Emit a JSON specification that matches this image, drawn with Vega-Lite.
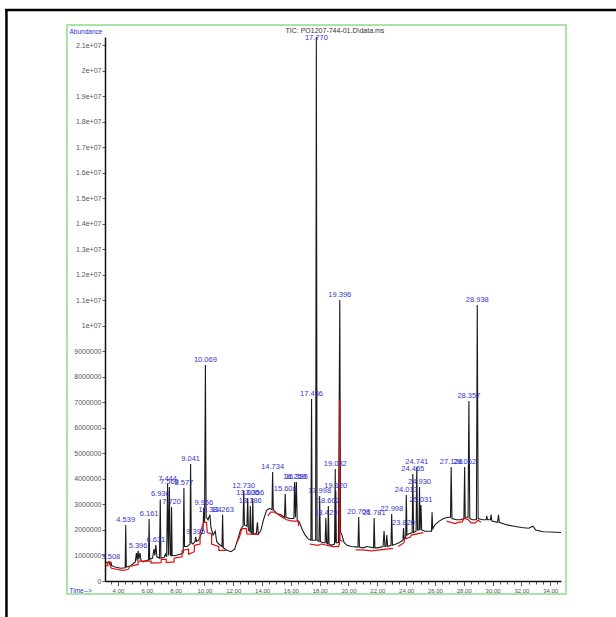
{
  "$schema": "https://vega.github.io/schema/vega-lite/v6.json",
  "width": 456,
  "height": 544,
  "autosize": {"type": "none"},
  "padding": {"left": 105, "top": 37, "right": 55, "bottom": 36},
  "background": "white",
  "config": {
    "view": {"stroke": null},
    "axis": {"grid": false, "domainColor": "#111111", "domainWidth": 1.5, "tickColor": "#333333", "tickWidth": 0.8,
      "labelFont": "Liberation Sans", "labelFontSize": 7, "labelColor": "#555555",
      "titleFont": "Liberation Sans", "titleFontWeight": "normal", "titleFontSize": 6.5, "titleColor": "#3030d0"},
    "axisX": {"labelFontSize": 6}
  },
  "datasets": {
    "tic": [
      {"t":3.1,"abundance":720000},{"t":3.4,"abundance":720000},{"t":3.46,"abundance":620000},{"t":3.508,"abundance":750000},{"t":3.56,"abundance":600000},
      {"t":3.8,"abundance":550000},{"t":4.2,"abundance":500000},{"t":4.5,"abundance":520000},{"t":4.539,"abundance":2200000},{"t":4.58,"abundance":550000},
      {"t":4.9,"abundance":600000},{"t":5.2,"abundance":750000},{"t":5.28,"abundance":1100000},{"t":5.33,"abundance":800000},{"t":5.396,"abundance":1180000},
      {"t":5.45,"abundance":850000},{"t":5.53,"abundance":1100000},{"t":5.6,"abundance":800000},{"t":5.75,"abundance":750000},{"t":5.95,"abundance":800000},
      {"t":6.12,"abundance":820000},{"t":6.161,"abundance":2430000},{"t":6.2,"abundance":850000},{"t":6.4,"abundance":900000},{"t":6.5,"abundance":1250000},
      {"t":6.56,"abundance":1000000},{"t":6.631,"abundance":1410000},{"t":6.7,"abundance":950000},{"t":6.88,"abundance":900000},{"t":6.936,"abundance":3200000},
      {"t":6.98,"abundance":900000},{"t":7.2,"abundance":920000},{"t":7.3,"abundance":1050000},{"t":7.38,"abundance":950000},{"t":7.444,"abundance":3800000},
      {"t":7.5,"abundance":1000000},{"t":7.569,"abundance":3690000},{"t":7.62,"abundance":1050000},{"t":7.68,"abundance":1000000},{"t":7.72,"abundance":2900000},
      {"t":7.76,"abundance":1000000},{"t":8.0,"abundance":1000000},{"t":8.3,"abundance":1050000},{"t":8.53,"abundance":1100000},{"t":8.577,"abundance":3650000},
      {"t":8.62,"abundance":1350000},{"t":8.8,"abundance":1350000},{"t":9.0,"abundance":1450000},{"t":9.041,"abundance":4590000},{"t":9.09,"abundance":1500000},
      {"t":9.2,"abundance":1450000},{"t":9.35,"abundance":1550000},{"t":9.395,"abundance":1730000},{"t":9.45,"abundance":1550000},{"t":9.6,"abundance":1600000},
      {"t":9.75,"abundance":1800000},{"t":9.9,"abundance":2000000},{"t":9.956,"abundance":2860000},{"t":10.01,"abundance":2300000},{"t":10.069,"abundance":8470000},
      {"t":10.12,"abundance":2500000},{"t":10.25,"abundance":2400000},{"t":10.384,"abundance":2600000},{"t":10.45,"abundance":2100000},{"t":10.6,"abundance":1800000},
      {"t":10.75,"abundance":1950000},{"t":10.85,"abundance":1550000},{"t":11.0,"abundance":1450000},{"t":11.22,"abundance":1350000},{"t":11.263,"abundance":2600000},
      {"t":11.31,"abundance":1300000},{"t":11.6,"abundance":1200000},{"t":11.85,"abundance":1150000},{"t":12.1,"abundance":1250000},{"t":12.3,"abundance":1600000},
      {"t":12.5,"abundance":2000000},{"t":12.68,"abundance":2150000},{"t":12.73,"abundance":3530000},{"t":12.78,"abundance":2200000},{"t":12.95,"abundance":2150000},
      {"t":13.006,"abundance":3250000},{"t":13.05,"abundance":2000000},{"t":13.14,"abundance":1950000},{"t":13.186,"abundance":2940000},{"t":13.23,"abundance":1900000},
      {"t":13.31,"abundance":1850000},{"t":13.356,"abundance":3250000},{"t":13.4,"abundance":1850000},{"t":13.6,"abundance":1850000},{"t":13.68,"abundance":2300000},
      {"t":13.74,"abundance":1850000},{"t":13.9,"abundance":1950000},{"t":14.1,"abundance":2400000},{"t":14.3,"abundance":2750000},{"t":14.5,"abundance":2850000},
      {"t":14.69,"abundance":2800000},{"t":14.734,"abundance":4270000},{"t":14.78,"abundance":2800000},{"t":15.0,"abundance":2650000},{"t":15.3,"abundance":2600000},
      {"t":15.56,"abundance":2500000},{"t":15.608,"abundance":3410000},{"t":15.66,"abundance":2500000},{"t":15.9,"abundance":2450000},{"t":16.21,"abundance":2450000},
      {"t":16.259,"abundance":3880000},{"t":16.32,"abundance":2500000},{"t":16.385,"abundance":3880000},{"t":16.44,"abundance":2400000},{"t":16.6,"abundance":2300000},
      {"t":16.8,"abundance":2000000},{"t":17.0,"abundance":1800000},{"t":17.2,"abundance":1650000},{"t":17.39,"abundance":1600000},{"t":17.436,"abundance":7140000},
      {"t":17.48,"abundance":1600000},{"t":17.72,"abundance":1600000},{"t":17.77,"abundance":21330000},{"t":17.82,"abundance":1600000},{"t":17.95,"abundance":1550000},
      {"t":17.998,"abundance":3330000},{"t":18.05,"abundance":1550000},{"t":18.2,"abundance":1500000},{"t":18.38,"abundance":1500000},{"t":18.429,"abundance":2470000},
      {"t":18.48,"abundance":1500000},{"t":18.56,"abundance":1450000},{"t":18.602,"abundance":2940000},{"t":18.65,"abundance":1450000},{"t":18.8,"abundance":1400000},
      {"t":19.03,"abundance":1450000},{"t":19.082,"abundance":4390000},{"t":19.1,"abundance":1500000},{"t":19.12,"abundance":3530000},{"t":19.16,"abundance":1500000},
      {"t":19.3,"abundance":1500000},{"t":19.396,"abundance":11020000},{"t":19.45,"abundance":1900000},{"t":19.55,"abundance":1800000},{"t":19.7,"abundance":1500000},
      {"t":19.9,"abundance":1400000},{"t":20.2,"abundance":1350000},{"t":20.66,"abundance":1330000},{"t":20.708,"abundance":2510000},{"t":20.76,"abundance":1330000},
      {"t":21.0,"abundance":1300000},{"t":21.3,"abundance":1350000},{"t":21.74,"abundance":1300000},{"t":21.781,"abundance":2470000},{"t":21.83,"abundance":1300000},
      {"t":22.0,"abundance":1300000},{"t":22.4,"abundance":1350000},{"t":22.47,"abundance":1960000},{"t":22.53,"abundance":1350000},{"t":22.6,"abundance":1350000},
      {"t":22.66,"abundance":1800000},{"t":22.72,"abundance":1350000},{"t":22.95,"abundance":1400000},{"t":22.998,"abundance":2630000},{"t":23.05,"abundance":1400000},
      {"t":23.3,"abundance":1450000},{"t":23.5,"abundance":1500000},{"t":23.78,"abundance":1600000},{"t":23.82,"abundance":2080000},{"t":23.87,"abundance":1650000},
      {"t":23.97,"abundance":1700000},{"t":24.013,"abundance":3370000},{"t":24.06,"abundance":1800000},{"t":24.2,"abundance":1850000},{"t":24.42,"abundance":1900000},
      {"t":24.465,"abundance":4200000},{"t":24.52,"abundance":1900000},{"t":24.69,"abundance":1950000},{"t":24.741,"abundance":4470000},{"t":24.79,"abundance":2000000},
      {"t":24.89,"abundance":2000000},{"t":24.93,"abundance":3690000},{"t":24.97,"abundance":2000000},{"t":25.031,"abundance":2980000},{"t":25.08,"abundance":2000000},
      {"t":25.3,"abundance":1950000},{"t":25.5,"abundance":1950000},{"t":25.76,"abundance":1950000},{"t":25.8,"abundance":2700000},{"t":25.85,"abundance":2050000},
      {"t":26.0,"abundance":2200000},{"t":26.3,"abundance":2350000},{"t":26.6,"abundance":2450000},{"t":26.9,"abundance":2500000},{"t":27.08,"abundance":2500000},
      {"t":27.128,"abundance":4470000},{"t":27.18,"abundance":2450000},{"t":27.5,"abundance":2400000},{"t":27.8,"abundance":2400000},{"t":28.01,"abundance":2450000},
      {"t":28.062,"abundance":4470000},{"t":28.1,"abundance":2500000},{"t":28.3,"abundance":2500000},{"t":28.357,"abundance":7060000},{"t":28.42,"abundance":2450000},
      {"t":28.6,"abundance":2400000},{"t":28.88,"abundance":2400000},{"t":28.938,"abundance":10820000},{"t":29.0,"abundance":2450000},{"t":29.3,"abundance":2400000},
      {"t":29.55,"abundance":2400000},{"t":29.6,"abundance":2550000},{"t":29.65,"abundance":2400000},{"t":29.85,"abundance":2400000},{"t":29.9,"abundance":2600000},
      {"t":29.95,"abundance":2350000},{"t":30.35,"abundance":2300000},{"t":30.41,"abundance":2600000},{"t":30.47,"abundance":2300000},{"t":31.0,"abundance":2200000},
      {"t":31.5,"abundance":2150000},{"t":32.0,"abundance":2100000},{"t":32.5,"abundance":2070000},{"t":32.8,"abundance":2150000},{"t":33.0,"abundance":2000000},
      {"t":33.5,"abundance":1930000},{"t":34.0,"abundance":1920000},{"t":34.75,"abundance":1900000}
    ],
    "baseline": [
      {"seg":"a","t":3.15,"abundance":600000},{"seg":"a","t":3.3,"abundance":600000},{"seg":"a","t":3.3,"abundance":750000},{"seg":"a","t":3.45,"abundance":750000},
      {"seg":"a","t":3.5,"abundance":550000},{"seg":"a","t":3.55,"abundance":500000},{"seg":"a","t":4.3,"abundance":420000},{"seg":"a","t":4.7,"abundance":450000},{"seg":"a","t":4.8,"abundance":550000},
      {"seg":"b","t":4.9,"abundance":580000},{"seg":"b","t":5.4,"abundance":650000},{"seg":"b","t":5.4,"abundance":780000},{"seg":"b","t":6.3,"abundance":780000},
      {"seg":"b","t":6.3,"abundance":700000},{"seg":"b","t":7.0,"abundance":720000},{"seg":"b","t":7.0,"abundance":850000},{"seg":"b","t":7.35,"abundance":850000},
      {"seg":"b","t":7.35,"abundance":720000},{"seg":"b","t":7.9,"abundance":750000},{"seg":"b","t":7.9,"abundance":900000},{"seg":"b","t":8.45,"abundance":950000},
      {"seg":"b","t":8.45,"abundance":1200000},{"seg":"b","t":8.9,"abundance":1250000},{"seg":"b","t":8.9,"abundance":1050000},{"seg":"b","t":9.3,"abundance":1150000},
      {"seg":"b","t":9.3,"abundance":1400000},{"seg":"b","t":9.7,"abundance":1450000},{"seg":"b","t":9.7,"abundance":1900000},{"seg":"b","t":9.95,"abundance":2300000},
      {"seg":"b","t":10.15,"abundance":2300000},{"seg":"b","t":10.2,"abundance":1900000},{"seg":"b","t":10.5,"abundance":1850000},{"seg":"b","t":10.5,"abundance":1450000},
      {"seg":"b","t":11.0,"abundance":1350000},{"seg":"b","t":11.0,"abundance":1200000},{"seg":"b","t":11.5,"abundance":1200000},
      {"seg":"c","t":12.25,"abundance":1500000},{"seg":"c","t":12.45,"abundance":1750000},{"seg":"c","t":12.6,"abundance":2050000},{"seg":"c","t":12.9,"abundance":2050000},
      {"seg":"c","t":12.95,"abundance":1850000},{"seg":"c","t":13.8,"abundance":1820000},
      {"seg":"d","t":14.4,"abundance":2550000},{"seg":"d","t":14.6,"abundance":2700000},{"seg":"d","t":14.9,"abundance":2700000},{"seg":"d","t":15.4,"abundance":2500000},
      {"seg":"d","t":15.7,"abundance":2400000},{"seg":"d","t":16.1,"abundance":2350000},{"seg":"d","t":16.5,"abundance":2350000},{"seg":"d","t":16.55,"abundance":2150000},
      {"seg":"e","t":17.3,"abundance":1450000},{"seg":"e","t":17.9,"abundance":1400000},{"seg":"e","t":18.1,"abundance":1450000},{"seg":"e","t":18.9,"abundance":1350000},
      {"seg":"e","t":19.3,"abundance":1350000},{"seg":"e","t":19.37,"abundance":1450000},{"seg":"e","t":19.39,"abundance":7100000},{"seg":"e","t":19.41,"abundance":1600000},{"seg":"e","t":19.6,"abundance":1550000},
      {"seg":"f","t":20.5,"abundance":1220000},{"seg":"f","t":21.0,"abundance":1220000},{"seg":"f","t":21.6,"abundance":1180000},{"seg":"f","t":22.2,"abundance":1220000},{"seg":"f","t":23.1,"abundance":1280000},
      {"seg":"g","t":23.45,"abundance":1350000},{"seg":"g","t":23.85,"abundance":1500000},{"seg":"g","t":23.9,"abundance":1650000},{"seg":"g","t":24.3,"abundance":1720000},
      {"seg":"g","t":24.35,"abundance":1800000},{"seg":"g","t":25.2,"abundance":1900000},
      {"seg":"h","t":26.8,"abundance":2350000},{"seg":"h","t":27.4,"abundance":2250000},{"seg":"h","t":27.6,"abundance":2300000},{"seg":"h","t":27.9,"abundance":2320000},
      {"seg":"h","t":28.0,"abundance":2450000},{"seg":"h","t":28.3,"abundance":2420000},{"seg":"h","t":28.5,"abundance":2280000},{"seg":"h","t":28.8,"abundance":2280000},
      {"seg":"h","t":29.0,"abundance":2380000},{"seg":"h","t":29.2,"abundance":2300000}
    ],
    "peaks": [
      {"t":3.508,"abundance":750000,"label":"3.508"},{"t":4.539,"abundance":2200000,"label":"4.539"},{"t":5.396,"abundance":1180000,"label":"5.396"},
      {"t":6.161,"abundance":2430000,"label":"6.161"},{"t":6.631,"abundance":1410000,"label":"6.631"},{"t":6.936,"abundance":3200000,"label":"6.936"},
      {"t":7.444,"abundance":3800000,"label":"7.444"},{"t":7.569,"abundance":3690000,"label":"7.569"},{"t":7.72,"abundance":2900000,"label":"7.720"},
      {"t":8.577,"abundance":3650000,"label":"8.577"},{"t":9.041,"abundance":4590000,"label":"9.041"},{"t":9.395,"abundance":1730000,"label":"9.395"},
      {"t":9.956,"abundance":2860000,"label":"9.956"},{"t":10.069,"abundance":8470000,"label":"10.069"},{"t":10.384,"abundance":2600000,"label":"10.384"},
      {"t":11.263,"abundance":2600000,"label":"11.263"},{"t":12.73,"abundance":3530000,"label":"12.730"},{"t":13.006,"abundance":3250000,"label":"13.006"},
      {"t":13.186,"abundance":2940000,"label":"13.186"},{"t":13.356,"abundance":3250000,"label":"13.356"},{"t":14.734,"abundance":4270000,"label":"14.734"},
      {"t":15.608,"abundance":3410000,"label":"15.608"},{"t":16.259,"abundance":3880000,"label":"16.259"},{"t":16.385,"abundance":3880000,"label":"16.385"},
      {"t":17.436,"abundance":7140000,"label":"17.436"},{"t":17.77,"abundance":21100000,"label":"17.770"},{"t":17.998,"abundance":3330000,"label":"17.998"},
      {"t":18.429,"abundance":2470000,"label":"18.429"},{"t":18.602,"abundance":2940000,"label":"18.602"},{"t":19.082,"abundance":4390000,"label":"19.082"},
      {"t":19.12,"abundance":3530000,"label":"19.120"},{"t":19.396,"abundance":11020000,"label":"19.396"},{"t":20.708,"abundance":2510000,"label":"20.708"},
      {"t":21.781,"abundance":2470000,"label":"21.781"},{"t":22.998,"abundance":2630000,"label":"22.998"},{"t":23.82,"abundance":2080000,"label":"23.820"},
      {"t":24.013,"abundance":3370000,"label":"24.013"},{"t":24.465,"abundance":4200000,"label":"24.465"},{"t":24.741,"abundance":4470000,"label":"24.741"},
      {"t":24.93,"abundance":3690000,"label":"24.930"},{"t":25.031,"abundance":2980000,"label":"25.031"},{"t":27.128,"abundance":4470000,"label":"27.128"},
      {"t":28.062,"abundance":4470000,"label":"28.062"},{"t":28.357,"abundance":7060000,"label":"28.357"},{"t":28.938,"abundance":10820000,"label":"28.938"}
    ]
  },
  "layer": [
    {
      "data": {"values": [{}]},
      "mark": {"type": "rect", "fill": "transparent", "stroke": "#a8e4a8", "strokeWidth": 2, "clip": false},
      "encoding": {
        "x": {"datum": 0.46, "type": "quantitative"}, "x2": {"datum": 35.096},
        "y": {"datum": 21800000, "type": "quantitative"}, "y2": {"datum": -510000}
      }
    },
    {
      "data": {"values": [{}]},
      "mark": {"type": "rule", "color": "#000000", "strokeWidth": 2.5, "clip": false},
      "encoding": {
        "x": {"datum": -3.74, "type": "quantitative"},
        "y": {"datum": 22390000, "type": "quantitative"}, "y2": {"datum": -1600000}
      }
    },
    {
      "data": {"values": [{}]},
      "mark": {"type": "rule", "color": "#000000", "strokeWidth": 2.5, "clip": false},
      "encoding": {
        "x": {"datum": -3.84, "type": "quantitative"}, "x2": {"datum": 38.9},
        "y": {"datum": 22390000, "type": "quantitative"}
      }
    },
    {
      "data": {"values": [{}]},
      "mark": {"type": "text", "font": "Liberation Sans", "fontSize": 7, "color": "#333333", "align": "center", "baseline": "middle"},
      "encoding": {
        "x": {"datum": 19.06, "type": "quantitative"},
        "y": {"datum": 21570000, "type": "quantitative"},
        "text": {"value": "TIC: PO1207-744-01.D\\data.ms"}
      }
    },
    {
      "data": {"name": "tic"},
      "mark": {"type": "line", "color": "#1a1a1a", "strokeWidth": 1.1, "clip": false},
      "encoding": {
        "x": {"field": "t", "type": "quantitative", "title": "Time-->",
          "scale": {"domain": [3.1, 34.75], "nice": false, "zero": false},
          "axis": {
            "values": [3.5,4,4.5,5,5.5,6,6.5,7,7.5,8,8.5,9,9.5,10,10.5,11,11.5,12,12.5,13,13.5,14,14.5,15,15.5,16,16.5,17,17.5,18,18.5,19,19.5,20,20.5,21,21.5,22,22.5,23,23.5,24,24.5,25,25.5,26,26.5,27,27.5,28,28.5,29,29.5,30,30.5,31,31.5,32,32.5,33,33.5,34,34.5],
            "tickCount": 1000,
            "labelExpr": "datum.value % 2 === 0 ? format(datum.value, '.2f') : ''",
            "tickSize": {"condition": {"test": "datum.value % 2 === 0", "value": 4.5}, "value": 3},
            "labelPadding": 1.5, "labelFlush": false, "labelOverlap": false,
            "titleX": -36, "titleY": 9, "titleAlign": "left", "titleBaseline": "middle"
          }},
        "y": {"field": "abundance", "type": "quantitative", "title": "Abundance",
          "scale": {"domain": [0, 21333000], "nice": false, "zero": false},
          "axis": {
            "values": [0,1000000,2000000,3000000,4000000,5000000,6000000,7000000,8000000,9000000,10000000,11000000,12000000,13000000,14000000,15000000,16000000,17000000,18000000,19000000,20000000,21000000],
            "tickCount": 1000,
            "labelExpr": "datum.value >= 10000000 ? format(datum.value / 10000000, '.2~f') + 'e+07' : format(datum.value, 'd')",
            "tickSize": 3, "labelPadding": 1, "labelOverlap": false, "labelFlush": false,
            "titleAngle": 0, "titleX": -36, "titleY": -6, "titleAlign": "left", "titleBaseline": "middle"
          }}
      }
    },
    {
      "data": {"name": "baseline"},
      "mark": {"type": "line", "color": "#e01010", "strokeWidth": 1.2, "clip": false},
      "encoding": {
        "x": {"field": "t", "type": "quantitative"},
        "y": {"field": "abundance", "type": "quantitative"},
        "detail": {"field": "seg", "type": "nominal"}
      }
    },
    {
      "data": {"name": "peaks"},
      "mark": {"type": "text", "font": "Liberation Sans", "fontSize": 7.5, "color": "#3434d0", "baseline": "bottom", "align": "center", "dy": -1},
      "encoding": {
        "x": {"field": "t", "type": "quantitative"},
        "y": {"field": "abundance", "type": "quantitative"},
        "text": {"field": "label", "type": "nominal"}
      }
    }
  ]
}
